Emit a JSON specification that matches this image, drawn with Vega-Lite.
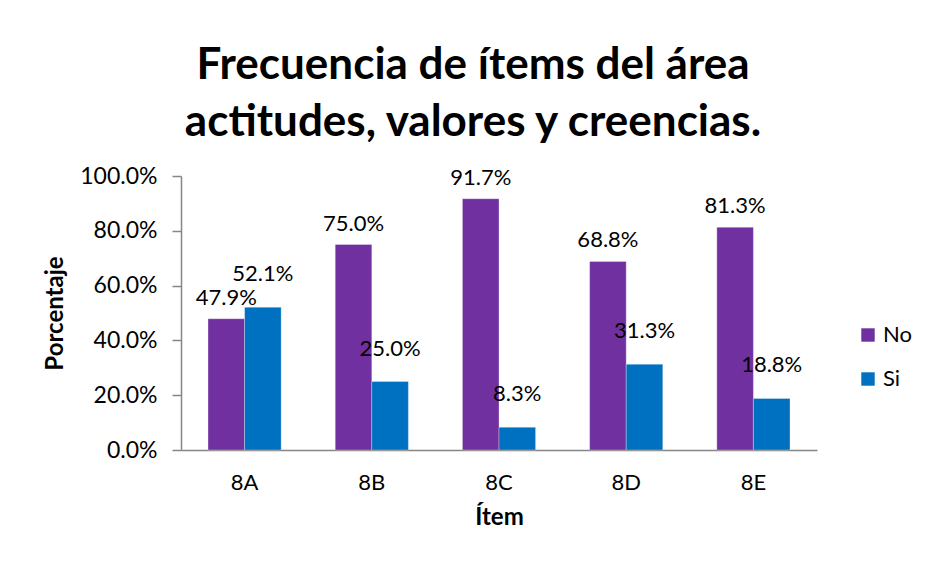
{
  "$schema": "https://vega.github.io/schema/vega-lite/v6.json",
  "width": 636,
  "height": 274,
  "autosize": "none",
  "padding": {"left": 181, "top": 176, "right": 114, "bottom": 113},
  "background": "white",
  "config": {"view": {"stroke": null}},
  "title": {
    "text": ["Frecuencia de ítems del área", "actitudes, valores y creencias."],
    "font": "Lato",
    "fontSize": 44,
    "fontWeight": "bold",
    "color": "black",
    "anchor": "middle",
    "frame": "group",
    "dx": -26,
    "lineHeight": 57,
    "offset": 20
  },
  "data": {
    "values": [
      {"item": "8A", "serie": "No", "valor": 0.479},
      {"item": "8A", "serie": "Si", "valor": 0.521},
      {"item": "8B", "serie": "No", "valor": 0.75},
      {"item": "8B", "serie": "Si", "valor": 0.25},
      {"item": "8C", "serie": "No", "valor": 0.917},
      {"item": "8C", "serie": "Si", "valor": 0.083},
      {"item": "8D", "serie": "No", "valor": 0.688},
      {"item": "8D", "serie": "Si", "valor": 0.313},
      {"item": "8E", "serie": "No", "valor": 0.813},
      {"item": "8E", "serie": "Si", "valor": 0.188}
    ]
  },
  "encoding": {
    "x": {
      "field": "item",
      "type": "nominal",
      "scale": {"paddingInner": 0.425, "paddingOuter": 0.2125},
      "axis": {
        "title": "Ítem",
        "labelAngle": 0,
        "labelFont": "Lato",
        "labelFontSize": 22,
        "labelColor": "black",
        "labelPadding": 22,
        "ticks": false,
        "domainColor": "#868686",
        "domainWidth": 1.5,
        "titleFont": "Lato",
        "titleFontSize": 24,
        "titleFontWeight": "bold",
        "titleColor": "black",
        "titlePadding": 12
      }
    },
    "xOffset": {"field": "serie", "type": "nominal", "scale": {"paddingInner": 0, "paddingOuter": 0}},
    "y": {
      "field": "valor",
      "type": "quantitative",
      "scale": {"domain": [0, 1], "nice": false},
      "axis": {
        "title": "Porcentaje",
        "format": ".1%",
        "values": [0, 0.2, 0.4, 0.6, 0.8, 1],
        "grid": false,
        "labelFont": "Lato",
        "labelFontSize": 23,
        "labelColor": "black",
        "labelPadding": 15,
        "tickSize": 9,
        "tickColor": "#868686",
        "tickWidth": 1.5,
        "domainColor": "#868686",
        "domainWidth": 1.5,
        "titleFont": "Lato",
        "titleFontSize": 24,
        "titleFontWeight": "bold",
        "titleColor": "black",
        "titlePadding": 12
      }
    },
    "color": {
      "field": "serie",
      "type": "nominal",
      "scale": {"domain": ["No", "Si"], "range": ["#7030A0", "#0070C0"]},
      "legend": {
        "title": null,
        "orient": "none",
        "legendX": 676,
        "legendY": 148,
        "symbolType": "square",
        "symbolSize": 180,
        "symbolStrokeWidth": 0,
        "labelFont": "Lato",
        "labelFontSize": 22,
        "labelColor": "black",
        "rowPadding": 22,
        "labelOffset": 4
      }
    }
  },
  "layer": [
    {"mark": {"type": "bar", "stroke": "white", "strokeWidth": 0.5, "strokeOpacity": 0.6}},
    {
      "transform": [{"filter": "datum.serie == 'No'"}],
      "mark": {"type": "text", "font": "Lato", "fontSize": 22, "color": "black", "baseline": "middle", "dy": -21},
      "encoding": {
        "text": {"field": "valor", "type": "quantitative", "format": ".1%"},
        "color": {"value": "black"}
      }
    },
    {
      "transform": [{"filter": "datum.serie == 'Si'"}],
      "mark": {"type": "text", "font": "Lato", "fontSize": 22, "color": "black", "baseline": "middle", "dy": -33},
      "encoding": {
        "text": {"field": "valor", "type": "quantitative", "format": ".1%"},
        "color": {"value": "black"}
      }
    }
  ]
}
